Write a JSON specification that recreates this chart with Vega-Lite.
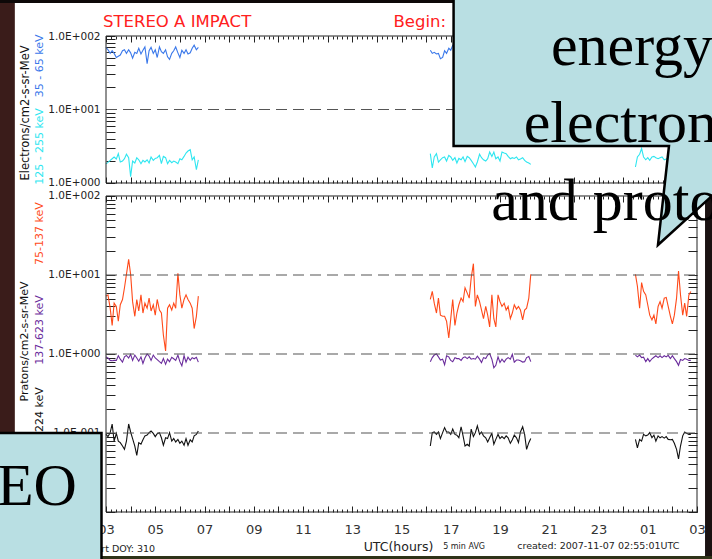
{
"$schema": "https://vega.github.io/schema/vega-lite/v6.json",
"autosize": {"type": "none"},
"width": 591,
"height": 476,
"padding": {"left": 106, "top": 36, "right": 15, "bottom": 47},
"background": "#ffffff",
"config": {"font": "DejaVu Sans", "view": {"stroke": null}},
"datasets": {
"top": [
{"h":3.00,"g":1,"a":70,"b":1.83},{"h":3.08,"g":1,"a":65,"b":1.91},{"h":3.17,"g":1,"a":58,"b":2.03},{"h":3.25,"g":1,"a":63,"b":2.14},{"h":3.33,"g":1,"a":58,"b":2.26},{"h":3.42,"g":1,"a":51,"b":2.12},{"h":3.50,"g":1,"a":53,"b":2.51},{"h":3.58,"g":1,"a":55,"b":1.93},{"h":3.67,"g":1,"a":63,"b":1.99},{"h":3.75,"g":1,"a":65,"b":2.14},{"h":3.83,"g":1,"a":58,"b":2.46},{"h":3.92,"g":1,"a":65,"b":2.21},{"h":4.00,"g":1,"a":59,"b":1.22},{"h":4.08,"g":1,"a":50,"b":1.99},{"h":4.17,"g":1,"a":60,"b":1.87},{"h":4.25,"g":1,"a":58,"b":2.21},{"h":4.33,"g":1,"a":68,"b":2.07},{"h":4.42,"g":1,"a":57,"b":1.83},{"h":4.50,"g":1,"a":64,"b":2.03},{"h":4.58,"g":1,"a":71,"b":1.93},{"h":4.67,"g":1,"a":42,"b":2.07},{"h":4.75,"g":1,"a":63,"b":1.87},{"h":4.83,"g":1,"a":70,"b":2.26},{"h":4.92,"g":1,"a":58,"b":2.03},{"h":5.00,"g":1,"a":65,"b":2.16},{"h":5.08,"g":1,"a":51,"b":2.21},{"h":5.17,"g":1,"a":71,"b":2.38},{"h":5.25,"g":1,"a":61,"b":1.83},{"h":5.33,"g":1,"a":58,"b":2.30},{"h":5.42,"g":1,"a":65,"b":2.21},{"h":5.50,"g":1,"a":52,"b":1.83},{"h":5.58,"g":1,"a":48,"b":2.03},{"h":5.67,"g":1,"a":58,"b":1.89},{"h":5.75,"g":1,"a":63,"b":1.99},{"h":5.83,"g":1,"a":71,"b":1.93},{"h":5.92,"g":1,"a":59,"b":1.83},{"h":6.00,"g":1,"a":51,"b":2.14},{"h":6.08,"g":1,"a":64,"b":2.07},{"h":6.17,"g":1,"a":58,"b":2.30},{"h":6.25,"g":1,"a":65,"b":2.56},{"h":6.33,"g":1,"a":57,"b":2.72},{"h":6.42,"g":1,"a":59,"b":2.84},{"h":6.50,"g":1,"a":68,"b":2.07},{"h":6.58,"g":1,"a":75,"b":2.26},{"h":6.67,"g":1,"a":65,"b":1.52},{"h":6.75,"g":1,"a":70,"b":2.07},
{"h":16.17,"g":2,"a":64,"b":2.51},{"h":16.25,"g":2,"a":58,"b":1.6},{"h":16.33,"g":2,"a":60,"b":2.26},{"h":16.42,"g":2,"a":57,"b":2.51},{"h":16.50,"g":2,"a":58,"b":1.93},{"h":16.58,"g":2,"a":49,"b":2.07},{"h":16.67,"g":2,"a":51,"b":2.21},{"h":16.75,"g":2,"a":63,"b":2.26},{"h":16.83,"g":2,"a":58,"b":1.99},{"h":16.92,"g":2,"a":68,"b":2.38},{"h":17.00,"g":2,"a":64,"b":2.26},{"h":17.08,"g":2,"a":75,"b":2.03},{"h":17.17,"g":2,"a":75,"b":2.21},{"h":17.25,"g":2,"a":66,"b":1.87},{"h":17.33,"g":2,"a":70,"b":2.16},{"h":17.42,"g":2,"a":62,"b":2.07},{"h":17.50,"g":2,"a":58,"b":2.26},{"h":17.58,"g":2,"a":65,"b":1.95},{"h":17.67,"g":2,"a":72,"b":2.30},{"h":17.75,"g":2,"a":60,"b":2.21},{"h":17.83,"g":2,"a":55,"b":2.03},{"h":17.92,"g":2,"a":63,"b":1.83},{"h":18.00,"g":2,"a":68,"b":1.65},{"h":18.08,"g":2,"a":74,"b":1.93},{"h":18.17,"g":2,"a":61,"b":2.46},{"h":18.25,"g":2,"a":57,"b":2.21},{"h":18.33,"g":2,"a":66,"b":2.07},{"h":18.42,"g":2,"a":70,"b":1.99},{"h":18.50,"g":2,"a":59,"b":2.14},{"h":18.58,"g":2,"a":64,"b":2.64},{"h":18.67,"g":2,"a":71,"b":2.30},{"h":18.75,"g":2,"a":62,"b":2.64},{"h":18.83,"g":2,"a":56,"b":2.14},{"h":18.92,"g":2,"a":67,"b":2.26},{"h":19.00,"g":2,"a":73,"b":1.99},{"h":19.08,"g":2,"a":60,"b":2.64},{"h":19.17,"g":2,"a":58,"b":2.56},{"h":19.25,"g":2,"a":65,"b":2.51},{"h":19.33,"g":2,"a":69,"b":2.30},{"h":19.42,"g":2,"a":62,"b":2.14},{"h":19.50,"g":2,"a":57,"b":2.21},{"h":19.58,"g":2,"a":64,"b":2.16},{"h":19.67,"g":2,"a":70,"b":2.26},{"h":19.75,"g":2,"a":61,"b":2.07},{"h":19.83,"g":2,"a":66,"b":2.12},{"h":19.92,"g":2,"a":59,"b":2.21},{"h":20.00,"g":2,"a":63,"b":2.03},{"h":20.08,"g":2,"a":68,"b":1.93},{"h":20.17,"g":2,"a":60,"b":1.87},{"h":20.25,"g":2,"a":65,"b":1.79},
{"h":24.50,"g":3,"a":62,"b":1.65},{"h":24.58,"g":3,"a":68,"b":2.26},{"h":24.67,"g":3,"a":71,"b":2.46},{"h":24.75,"g":3,"a":59,"b":2.94},{"h":24.83,"g":3,"a":64,"b":2.26},{"h":24.92,"g":3,"a":66,"b":2.07},{"h":25.00,"g":3,"a":58,"b":2.21},{"h":25.08,"g":3,"a":63,"b":2.03},{"h":25.17,"g":3,"a":70,"b":2.26},{"h":25.25,"g":3,"a":67,"b":2.30},{"h":25.33,"g":3,"a":60,"b":2.21},{"h":25.42,"g":3,"a":57,"b":2.14},{"h":25.50,"g":3,"a":65,"b":2.21},{"h":25.58,"g":3,"a":69,"b":2.26},{"h":25.67,"g":3,"a":62,"b":2.07},{"h":25.75,"g":3,"a":58,"b":2.12},{"h":25.83,"g":3,"a":66,"b":2.2},{"h":25.92,"g":3,"a":72,"b":2.0},{"h":26.00,"g":3,"a":61,"b":2.3},{"h":26.08,"g":3,"a":64,"b":1.9},{"h":26.17,"g":3,"a":59,"b":2.1},{"h":26.25,"g":3,"a":67,"b":2.4},{"h":26.33,"g":3,"a":70,"b":2.0},{"h":26.42,"g":3,"a":63,"b":2.2},{"h":26.50,"g":3,"a":58,"b":1.8},{"h":26.58,"g":3,"a":65,"b":2.1},{"h":26.67,"g":3,"a":68,"b":2.3},{"h":26.75,"g":3,"a":62,"b":2.0}
],
"bot": [
{"h":3.00,"g":1,"p1":5.4,"p2":0.92,"p3":0.096},{"h":3.08,"g":1,"p1":5.6,"p2":0.89,"p3":0.090},{"h":3.17,"g":1,"p1":3.8,"p2":0.83,"p3":0.101},{"h":3.25,"g":1,"p1":2.3,"p2":0.82,"p3":0.13},{"h":3.33,"g":1,"p1":4.4,"p2":0.83,"p3":0.079},{"h":3.42,"g":1,"p1":4.0,"p2":0.83,"p3":0.099},{"h":3.50,"g":1,"p1":2.6,"p2":0.95,"p3":0.079},{"h":3.58,"g":1,"p1":4.2,"p2":0.86,"p3":0.0755},{"h":3.67,"g":1,"p1":4.9,"p2":0.79,"p3":0.0684},{"h":3.75,"g":1,"p1":6.9,"p2":0.92,"p3":0.062},{"h":3.83,"g":1,"p1":10.2,"p2":0.96,"p3":0.079},{"h":3.92,"g":1,"p1":15.8,"p2":0.89,"p3":0.13},{"h":4.00,"g":1,"p1":10.2,"p2":0.99,"p3":0.103},{"h":4.08,"g":1,"p1":4.6,"p2":0.83,"p3":0.085},{"h":4.17,"g":1,"p1":3.0,"p2":0.97,"p3":0.0684},{"h":4.25,"g":1,"p1":4.9,"p2":0.89,"p3":0.052},{"h":4.33,"g":1,"p1":3.5,"p2":0.81,"p3":0.0755},{"h":4.42,"g":1,"p1":5.6,"p2":0.92,"p3":0.072},{"h":4.50,"g":1,"p1":3.3,"p2":0.76,"p3":0.082},{"h":4.58,"g":1,"p1":4.4,"p2":0.89,"p3":0.092},{"h":4.67,"g":1,"p1":3.8,"p2":1.0,"p3":0.094},{"h":4.75,"g":1,"p1":5.1,"p2":0.94,"p3":0.101},{"h":4.83,"g":1,"p1":3.5,"p2":0.83,"p3":0.106},{"h":4.92,"g":1,"p1":4.2,"p2":0.97,"p3":0.099},{"h":5.00,"g":1,"p1":3.1,"p2":0.89,"p3":0.090},{"h":5.08,"g":1,"p1":4.9,"p2":0.85,"p3":0.098},{"h":5.17,"g":1,"p1":3.6,"p2":0.80,"p3":0.101},{"h":5.25,"g":1,"p1":3.3,"p2":0.76,"p3":0.087},{"h":5.33,"g":1,"p1":1.74,"p2":0.875,"p3":0.070},{"h":5.42,"g":1,"p1":1.09,"p2":0.74,"p3":0.087},{"h":5.50,"g":1,"p1":3.8,"p2":0.86,"p3":0.085},{"h":5.58,"g":1,"p1":4.2,"p2":0.80,"p3":0.101},{"h":5.67,"g":1,"p1":3.6,"p2":0.91,"p3":0.079},{"h":5.75,"g":1,"p1":4.4,"p2":0.87,"p3":0.085},{"h":5.83,"g":1,"p1":3.8,"p2":0.83,"p3":0.077},{"h":5.92,"g":1,"p1":10.5,"p2":0.97,"p3":0.083},{"h":6.00,"g":1,"p1":5.6,"p2":0.80,"p3":0.074},{"h":6.08,"g":1,"p1":3.8,"p2":0.71,"p3":0.079},{"h":6.17,"g":1,"p1":4.9,"p2":0.95,"p3":0.070},{"h":6.25,"g":1,"p1":5.6,"p2":0.79,"p3":0.085},{"h":6.33,"g":1,"p1":4.9,"p2":0.91,"p3":0.070},{"h":6.42,"g":1,"p1":4.4,"p2":0.83,"p3":0.082},{"h":6.50,"g":1,"p1":3.8,"p2":0.90,"p3":0.077},{"h":6.58,"g":1,"p1":2.1,"p2":0.87,"p3":0.092},{"h":6.67,"g":1,"p1":3.0,"p2":0.91,"p3":0.096},{"h":6.75,"g":1,"p1":5.4,"p2":0.79,"p3":0.106},
{"h":16.17,"g":2,"p1":4.9,"p2":0.80,"p3":0.0684},{"h":16.25,"g":2,"p1":6.2,"p2":0.90,"p3":0.101},{"h":16.33,"g":2,"p1":4.4,"p2":0.97,"p3":0.103},{"h":16.42,"g":2,"p1":3.3,"p2":1.0,"p3":0.096},{"h":16.50,"g":2,"p1":5.1,"p2":0.92,"p3":0.103},{"h":16.58,"g":2,"p1":3.1,"p2":0.84,"p3":0.085},{"h":16.67,"g":2,"p1":3.0,"p2":0.86,"p3":0.101},{"h":16.75,"g":2,"p1":3.0,"p2":0.73,"p3":0.117},{"h":16.83,"g":2,"p1":2.6,"p2":0.95,"p3":0.103},{"h":16.92,"g":2,"p1":1.6,"p2":0.92,"p3":0.103},{"h":17.00,"g":2,"p1":2.8,"p2":0.83,"p3":0.096},{"h":17.08,"g":2,"p1":4.9,"p2":0.80,"p3":0.112},{"h":17.17,"g":2,"p1":2.3,"p2":0.90,"p3":0.096},{"h":17.25,"g":2,"p1":3.3,"p2":0.875,"p3":0.094},{"h":17.33,"g":2,"p1":4.2,"p2":0.875,"p3":0.087},{"h":17.42,"g":2,"p1":5.1,"p2":0.83,"p3":0.12},{"h":17.50,"g":2,"p1":4.6,"p2":0.90,"p3":0.092},{"h":17.58,"g":2,"p1":6.9,"p2":0.92,"p3":0.0684},{"h":17.67,"g":2,"p1":5.9,"p2":0.875,"p3":0.072},{"h":17.75,"g":2,"p1":5.1,"p2":0.92,"p3":0.0684},{"h":17.83,"g":2,"p1":9.2,"p2":0.86,"p3":0.112},{"h":17.92,"g":2,"p1":13.9,"p2":0.875,"p3":0.090},{"h":18.00,"g":2,"p1":4.0,"p2":0.86,"p3":0.101},{"h":18.08,"g":2,"p1":5.6,"p2":0.94,"p3":0.123},{"h":18.17,"g":2,"p1":4.6,"p2":0.86,"p3":0.096},{"h":18.25,"g":2,"p1":3.6,"p2":0.78,"p3":0.103},{"h":18.33,"g":2,"p1":2.8,"p2":0.90,"p3":0.092},{"h":18.42,"g":2,"p1":4.0,"p2":0.875,"p3":0.087},{"h":18.50,"g":2,"p1":3.1,"p2":0.97,"p3":0.077},{"h":18.58,"g":2,"p1":2.2,"p2":1.01,"p3":0.087},{"h":18.67,"g":2,"p1":5.6,"p2":0.86,"p3":0.099},{"h":18.75,"g":2,"p1":2.8,"p2":0.67,"p3":0.072},{"h":18.83,"g":2,"p1":2.2,"p2":0.72,"p3":0.083},{"h":18.92,"g":2,"p1":5.6,"p2":0.92,"p3":0.096},{"h":19.00,"g":2,"p1":4.6,"p2":0.78,"p3":0.085},{"h":19.08,"g":2,"p1":4.0,"p2":0.86,"p3":0.090},{"h":19.17,"g":2,"p1":4.4,"p2":0.79,"p3":0.085},{"h":19.25,"g":2,"p1":3.6,"p2":0.86,"p3":0.092},{"h":19.33,"g":2,"p1":4.0,"p2":0.90,"p3":0.087},{"h":19.42,"g":2,"p1":2.8,"p2":0.86,"p3":0.074},{"h":19.50,"g":2,"p1":3.3,"p2":0.99,"p3":0.082},{"h":19.58,"g":2,"p1":4.2,"p2":0.79,"p3":0.094},{"h":19.67,"g":2,"p1":3.7,"p2":0.84,"p3":0.087},{"h":19.75,"g":2,"p1":4.0,"p2":0.84,"p3":0.0755},{"h":19.83,"g":2,"p1":3.6,"p2":0.82,"p3":0.103},{"h":19.92,"g":2,"p1":2.7,"p2":0.79,"p3":0.12},{"h":20.00,"g":2,"p1":3.6,"p2":0.80,"p3":0.096},{"h":20.08,"g":2,"p1":3.8,"p2":0.90,"p3":0.062},{"h":20.17,"g":2,"p1":5.1,"p2":0.93,"p3":0.0755},{"h":20.25,"g":2,"p1":10.2,"p2":0.80,"p3":0.085},
{"h":24.50,"g":3,"p1":10.2,"p2":0.97,"p3":0.083},{"h":24.58,"g":3,"p1":7.2,"p2":0.92,"p3":0.065},{"h":24.67,"g":3,"p1":3.8,"p2":0.97,"p3":0.083},{"h":24.75,"g":3,"p1":8.0,"p2":0.90,"p3":0.079},{"h":24.83,"g":3,"p1":6.2,"p2":0.91,"p3":0.096},{"h":24.92,"g":3,"p1":5.6,"p2":0.80,"p3":0.092},{"h":25.00,"g":3,"p1":4.2,"p2":0.875,"p3":0.094},{"h":25.08,"g":3,"p1":3.1,"p2":0.80,"p3":0.101},{"h":25.17,"g":3,"p1":2.7,"p2":0.87,"p3":0.087},{"h":25.25,"g":3,"p1":3.1,"p2":0.91,"p3":0.094},{"h":25.33,"g":3,"p1":2.4,"p2":0.95,"p3":0.079},{"h":25.42,"g":3,"p1":4.0,"p2":0.90,"p3":0.092},{"h":25.50,"g":3,"p1":4.6,"p2":0.95,"p3":0.087},{"h":25.58,"g":3,"p1":3.8,"p2":0.90,"p3":0.090},{"h":25.67,"g":3,"p1":5.1,"p2":0.95,"p3":0.086},{"h":25.75,"g":3,"p1":5.2,"p2":0.92,"p3":0.090},{"h":25.83,"g":3,"p1":4.0,"p2":0.96,"p3":0.083},{"h":25.92,"g":3,"p1":3.0,"p2":0.875,"p3":0.082},{"h":26.00,"g":3,"p1":2.4,"p2":0.95,"p3":0.083},{"h":26.08,"g":3,"p1":3.1,"p2":0.875,"p3":0.074},{"h":26.17,"g":3,"p1":5.1,"p2":0.80,"p3":0.062},{"h":26.25,"g":3,"p1":11.2,"p2":0.72,"p3":0.047},{"h":26.33,"g":3,"p1":5.6,"p2":0.85,"p3":0.0684},{"h":26.42,"g":3,"p1":3.1,"p2":0.83,"p3":0.092},{"h":26.50,"g":3,"p1":4.4,"p2":0.875,"p3":0.103},{"h":26.58,"g":3,"p1":3.0,"p2":0.86,"p3":0.099},{"h":26.67,"g":3,"p1":5.6,"p2":0.83,"p3":0.096},{"h":26.75,"g":3,"p1":6.2,"p2":0.83,"p3":0.096}
],
"callout": [
{"i":0,"ph":17.115,"pv":100000},{"i":1,"ph":17.115,"pv":429.6},{"i":2,"ph":25.862,"pv":429.6},{"i":3,"ph":25.414,"pv":23.98},{"i":4,"ph":28.79,"pv":216.5},{"i":5,"ph":28.79,"pv":100000}
]
},
"resolve": {"scale": {"y": "independent"}, "axis": {"x": "independent", "y": "independent"}},
"layer": [
{
"data": {"name": "top"},
"transform": [{"fold": ["a", "b"], "as": ["s", "v"]}],
"mark": {"type": "line", "strokeWidth": 1.1},
"encoding": {
"x": {"field": "h", "type": "quantitative", "scale": {"domain": [3, 27], "nice": false, "zero": false},
"axis": {"orient": "top", "values": [3,4,5,6,7,8,9,10,11,12,13,14,15,16,17,18,19,20,21,22,23,24,25,26,27], "tickSize": -6, "labels": false, "domain": false, "grid": false, "title": null, "tickColor": "#222"}},
"y": {"field": "v", "type": "quantitative", "scale": {"type": "log", "domain": [0.0000334, 100], "nice": false},
"axis": {"orient": "left", "values": [1,2,3,4,5,6,7,8,9,10,20,30,40,50,60,70,80,90,100], "tickSize": -9, "domain": false, "grid": false, "title": null, "tickColor": "#222", "labelExpr": "datum.value == 100 ? '1.0E+002' : datum.value == 10 ? '1.0E+001' : datum.value == 1 ? '1.0E+000' : ''", "labelFont": "DejaVu Sans", "labelFontSize": 10.5, "labelColor": "#222", "labelPadding": 15, "labelOverlap": false}},
"color": {"field": "s", "type": "nominal", "scale": {"domain": ["a", "b", "p1", "p2", "p3"], "range": ["#3a78ea", "#2ee6f0", "#ff4a1a", "#6a2c9c", "#111111"]}, "legend": null},
"detail": {"field": "g", "type": "nominal"}
}
},
{
"data": {"values": [{"r": 10}]},
"mark": {"type": "rule", "color": "#555555", "strokeWidth": 1.2, "strokeDash": [11, 6]},
"encoding": {
"x": {"datum": 3, "type": "quantitative", "scale": {"domain": [3, 27], "nice": false, "zero": false},
"axis": {"orient": "top", "tickCount": 120, "tickSize": -3, "labels": false, "domain": false, "grid": false, "title": null, "tickColor": "#222"}},
"x2": {"datum": 27},
"y": {"field": "r", "type": "quantitative", "scale": {"type": "log", "domain": [0.0000334, 100], "nice": false},
"axis": {"orient": "right", "values": [1,2,3,4,5,6,7,8,9,10,20,30,40,50,60,70,80,90,100], "tickSize": -9, "labels": false, "domain": false, "grid": false, "title": null, "tickColor": "#222"}}
}
},
{
"data": {"values": [{}]},
"mark": {"type": "rect", "fill": "transparent", "stroke": "#222222", "strokeWidth": 1},
"encoding": {
"x": {"datum": 3, "type": "quantitative", "scale": {"domain": [3, 27], "nice": false, "zero": false},
"axis": {"orient": "bottom", "offset": -329, "values": [3,4,5,6,7,8,9,10,11,12,13,14,15,16,17,18,19,20,21,22,23,24,25,26,27], "tickSize": -6, "labels": false, "domain": false, "grid": false, "title": null, "tickColor": "#222"}},
"x2": {"datum": 27},
"y": {"datum": 1, "type": "quantitative", "scale": {"type": "log", "domain": [0.0000334, 100], "nice": false}, "axis": null},
"y2": {"datum": 100}
}
},
{
"data": {"values": [{}]},
"mark": {"type": "text", "text": "STEREO A IMPACT", "font": "DejaVu Sans", "fontSize": 16.5, "color": "#ff2020", "align": "left", "baseline": "alphabetic"},
"encoding": {
"x": {"datum": 2.878, "type": "quantitative", "scale": {"domain": [3, 27], "nice": false, "zero": false},
"axis": {"orient": "bottom", "offset": -329, "tickCount": 120, "tickSize": -3, "labels": false, "domain": false, "grid": false, "title": null, "tickColor": "#222"}},
"y": {"datum": 132.6, "type": "quantitative", "scale": {"type": "log", "domain": [0.0000334, 100], "nice": false}, "axis": null}
}
},
{
"data": {"values": [{}]},
"mark": {"type": "text", "text": "Begin:", "font": "DejaVu Sans", "fontSize": 16.5, "color": "#ff2020", "align": "left", "baseline": "alphabetic"},
"encoding": {
"x": {"datum": 14.675, "type": "quantitative", "scale": {"domain": [3, 27], "nice": false, "zero": false}, "axis": null},
"y": {"datum": 132.6, "type": "quantitative", "scale": {"type": "log", "domain": [0.0000334, 100], "nice": false}, "axis": null}
}
},
{
"data": {"values": [{}]},
"mark": {"type": "text", "text": "Electrons/cm2-s-sr-MeV", "font": "DejaVu Sans", "fontSize": 11.5, "color": "#111111", "align": "center", "baseline": "middle", "angle": 270},
"encoding": {
"x": {"datum": -0.254, "type": "quantitative", "scale": {"domain": [3, 27], "nice": false, "zero": false}, "axis": null},
"y": {"datum": 8.965, "type": "quantitative", "scale": {"type": "log", "domain": [0.0000334, 100], "nice": false}, "axis": null}
}
},
{
"data": {"values": [{}]},
"mark": {"type": "text", "text": "125 - 255 keV", "font": "DejaVu Sans", "fontSize": 11, "color": "#2ee6f0", "align": "center", "baseline": "middle", "angle": 270},
"encoding": {
"x": {"datum": 0.315, "type": "quantitative", "scale": {"domain": [3, 27], "nice": false, "zero": false}, "axis": null},
"y": {"datum": 3.14, "type": "quantitative", "scale": {"type": "log", "domain": [0.0000334, 100], "nice": false}, "axis": null}
}
},
{
"data": {"values": [{}]},
"mark": {"type": "text", "text": "35 - 65 keV", "font": "DejaVu Sans", "fontSize": 11, "color": "#3a78ea", "align": "center", "baseline": "middle", "angle": 270},
"encoding": {
"x": {"datum": 0.315, "type": "quantitative", "scale": {"domain": [3, 27], "nice": false, "zero": false}, "axis": null},
"y": {"datum": 39.3, "type": "quantitative", "scale": {"type": "log", "domain": [0.0000334, 100], "nice": false}, "axis": null}
}
},
{
"data": {"name": "bot"},
"transform": [{"fold": ["p1", "p2", "p3"], "as": ["s", "v"]}],
"mark": {"type": "line", "strokeWidth": 1.1},
"encoding": {
"x": {"field": "h", "type": "quantitative", "scale": {"domain": [3, 27], "nice": false, "zero": false},
"axis": {"orient": "bottom", "values": [3,4,5,6,7,8,9,10,11,12,13,14,15,16,17,18,19,20,21,22,23,24,25,26,27], "tickSize": -6, "domain": false, "grid": false, "title": null, "tickColor": "#222", "labelExpr": "datum.value % 2 == 1 ? ((datum.value % 24) < 10 ? '0' : '') + (datum.value % 24) : ''", "labelFont": "DejaVu Sans", "labelFontSize": 13, "labelColor": "#333", "labelPadding": 17, "labelFlush": false, "labelOverlap": false}},
"y": {"field": "v", "type": "quantitative", "scale": {"type": "log", "domain": [0.01, 10600], "nice": false},
"axis": {"orient": "left", "values": [0.01,0.02,0.03,0.04,0.05,0.06,0.07,0.08,0.09,0.1,0.2,0.3,0.4,0.5,0.6,0.7,0.8,0.9,1,2,3,4,5,6,7,8,9,10,20,30,40,50,60,70,80,90,100], "tickSize": -9, "domain": false, "grid": false, "title": null, "tickColor": "#222", "labelExpr": "datum.value == 100 ? '1.0E+002' : datum.value == 10 ? '1.0E+001' : datum.value == 1 ? '1.0E+000' : datum.value == 0.1 ? '1.0E-001' : ''", "labelFont": "DejaVu Sans", "labelFontSize": 10.5, "labelColor": "#222", "labelPadding": 15, "labelOverlap": false}},
"color": {"field": "s", "type": "nominal", "scale": {"domain": ["a", "b", "p1", "p2", "p3"], "range": ["#3a78ea", "#2ee6f0", "#ff4a1a", "#6a2c9c", "#111111"]}, "legend": null},
"detail": {"field": "g", "type": "nominal"}
}
},
{
"data": {"values": [{"r": 10}, {"r": 1}, {"r": 0.1}]},
"mark": {"type": "rule", "color": "#555555", "strokeWidth": 1.2, "strokeDash": [11, 6]},
"encoding": {
"x": {"datum": 3, "type": "quantitative", "scale": {"domain": [3, 27], "nice": false, "zero": false},
"axis": {"orient": "bottom", "tickCount": 120, "tickSize": -3, "labels": false, "domain": false, "grid": false, "title": null, "tickColor": "#222"}},
"x2": {"datum": 27},
"y": {"field": "r", "type": "quantitative", "scale": {"type": "log", "domain": [0.01, 10600], "nice": false},
"axis": {"orient": "right", "values": [0.01,0.02,0.03,0.04,0.05,0.06,0.07,0.08,0.09,0.1,0.2,0.3,0.4,0.5,0.6,0.7,0.8,0.9,1,2,3,4,5,6,7,8,9,10,20,30,40,50,60,70,80,90,100], "tickSize": -9, "labels": false, "domain": false, "grid": false, "title": null, "tickColor": "#222"}}
}
},
{
"data": {"values": [{}]},
"mark": {"type": "rect", "fill": "transparent", "stroke": "#222222", "strokeWidth": 1},
"encoding": {
"x": {"datum": 3, "type": "quantitative", "scale": {"domain": [3, 27], "nice": false, "zero": false},
"axis": {"orient": "top", "offset": -160, "values": [3,4,5,6,7,8,9,10,11,12,13,14,15,16,17,18,19,20,21,22,23,24,25,26,27], "tickSize": -6, "labels": false, "domain": false, "grid": false, "title": null, "tickColor": "#222"}},
"x2": {"datum": 27},
"y": {"datum": 0.01, "type": "quantitative", "scale": {"type": "log", "domain": [0.01, 10600], "nice": false}, "axis": null},
"y2": {"datum": 100}
}
},
{
"data": {"values": [{}]},
"mark": {"type": "text", "text": "Pratons/cm2-s-sr-MeV", "font": "DejaVu Sans", "fontSize": 11, "color": "#111111", "align": "center", "baseline": "middle", "angle": 270},
"encoding": {
"x": {"datum": -0.295, "type": "quantitative", "scale": {"domain": [3, 27], "nice": false, "zero": false}, "axis": null},
"y": {"datum": 1.439, "type": "quantitative", "scale": {"type": "log", "domain": [0.01, 10600], "nice": false}, "axis": null}
}
},
{
"data": {"values": [{}]},
"mark": {"type": "text", "text": "75-137 keV", "font": "DejaVu Sans", "fontSize": 11, "color": "#ff4a1a", "align": "center", "baseline": "middle", "angle": 270},
"encoding": {
"x": {"datum": 0.315, "type": "quantitative", "scale": {"domain": [3, 27], "nice": false, "zero": false}, "axis": null},
"y": {"datum": 33.5, "type": "quantitative", "scale": {"type": "log", "domain": [0.01, 10600], "nice": false}, "axis": null}
}
},
{
"data": {"values": [{}]},
"mark": {"type": "text", "text": "137-623 keV", "font": "DejaVu Sans", "fontSize": 11, "color": "#6a2c9c", "align": "center", "baseline": "middle", "angle": 270},
"encoding": {
"x": {"datum": 0.315, "type": "quantitative", "scale": {"domain": [3, 27], "nice": false, "zero": false}, "axis": null},
"y": {"datum": 2.013, "type": "quantitative", "scale": {"type": "log", "domain": [0.01, 10600], "nice": false}, "axis": null}
}
},
{
"data": {"values": [{}]},
"mark": {"type": "text", "text": "623-2224 keV", "font": "DejaVu Sans", "fontSize": 11, "color": "#111111", "align": "center", "baseline": "middle", "angle": 270},
"encoding": {
"x": {"datum": 0.315, "type": "quantitative", "scale": {"domain": [3, 27], "nice": false, "zero": false}, "axis": null},
"y": {"datum": 0.1245, "type": "quantitative", "scale": {"type": "log", "domain": [0.01, 10600], "nice": false}, "axis": null}
}
},
{
"data": {"values": [{}]},
"mark": {"type": "text", "text": "Start DOY: 310", "font": "DejaVu Sans", "fontSize": 9.5, "color": "#222222", "align": "right", "baseline": "middle"},
"encoding": {
"x": {"datum": 4.993, "type": "quantitative", "scale": {"domain": [3, 27], "nice": false, "zero": false}, "axis": null},
"y": {"datum": 0.0034, "type": "quantitative", "scale": {"type": "log", "domain": [0.01, 10600], "nice": false}, "axis": null}
}
},
{
"data": {"values": [{}]},
"mark": {"type": "text", "text": "UTC(hours)", "font": "DejaVu Sans", "fontSize": 12.5, "color": "#222222", "align": "center", "baseline": "middle"},
"encoding": {
"x": {"datum": 14.878, "type": "quantitative", "scale": {"domain": [3, 27], "nice": false, "zero": false}, "axis": null},
"y": {"datum": 0.003606, "type": "quantitative", "scale": {"type": "log", "domain": [0.01, 10600], "nice": false}, "axis": null}
}
},
{
"data": {"values": [{}]},
"mark": {"type": "text", "text": "5 min AVG", "font": "DejaVu Sans", "fontSize": 8, "color": "#222222", "align": "center", "baseline": "middle"},
"encoding": {
"x": {"datum": 17.543, "type": "quantitative", "scale": {"domain": [3, 27], "nice": false, "zero": false}, "axis": null},
"y": {"datum": 0.003606, "type": "quantitative", "scale": {"type": "log", "domain": [0.01, 10600], "nice": false}, "axis": null}
}
},
{
"data": {"values": [{}]},
"mark": {"type": "text", "text": "created: 2007-11-07 02:55:01UTC", "font": "DejaVu Sans", "fontSize": 9.5, "color": "#222222", "align": "center", "baseline": "middle"},
"encoding": {
"x": {"datum": 22.993, "type": "quantitative", "scale": {"domain": [3, 27], "nice": false, "zero": false}, "axis": null},
"y": {"datum": 0.00372, "type": "quantitative", "scale": {"type": "log", "domain": [0.01, 10600], "nice": false}, "axis": null}
}
},
{
"data": {"values": [{}]},
"mark": {"type": "rect", "fill": "#3a1c1a"},
"encoding": {
"x": {"datum": -1.719, "type": "quantitative", "scale": {"domain": [3, 27], "nice": false, "zero": false},
"axis": {"orient": "top", "offset": -160, "tickCount": 120, "tickSize": -3, "labels": false, "domain": false, "grid": false, "title": null, "tickColor": "#222"}},
"x2": {"datum": -0.702},
"y": {"datum": 0.0005, "type": "quantitative", "scale": {"type": "log", "domain": [0.01, 10600], "nice": false}, "axis": null},
"y2": {"datum": 100000}
}
},
{
"data": {"values": [{}]},
"mark": {"type": "rect", "fill": "#0d0808"},
"encoding": {
"x": {"datum": -1.719, "type": "quantitative", "scale": {"domain": [3, 27], "nice": false, "zero": false}, "axis": null},
"x2": {"datum": 29},
"y": {"datum": 27730, "type": "quantitative", "scale": {"type": "log", "domain": [0.01, 10600], "nice": false}, "axis": null},
"y2": {"datum": 100000}
}
},
{
"data": {"values": [{}]},
"mark": {"type": "rect", "fill": "#1a1212"},
"encoding": {
"x": {"datum": 27.326, "type": "quantitative", "scale": {"domain": [3, 27], "nice": false, "zero": false}, "axis": null},
"x2": {"datum": 29},
"y": {"datum": 0.0005, "type": "quantitative", "scale": {"type": "log", "domain": [0.01, 10600], "nice": false}, "axis": null},
"y2": {"datum": 100000}
}
},
{
"data": {"values": [{}]},
"mark": {"type": "rect", "fill": "#2e3318"},
"encoding": {
"x": {"datum": -1.719, "type": "quantitative", "scale": {"domain": [3, 27], "nice": false, "zero": false}, "axis": null},
"x2": {"datum": 29},
"y": {"datum": 0.0005, "type": "quantitative", "scale": {"type": "log", "domain": [0.01, 10600], "nice": false}, "axis": null},
"y2": {"datum": 0.002773}
}
},
{
"data": {"name": "callout"},
"mark": {"type": "line", "interpolate": "linear-closed", "fill": "#b9dfe3", "stroke": "#000000", "strokeWidth": 2.5},
"encoding": {
"x": {"field": "ph", "type": "quantitative", "scale": {"domain": [3, 27], "nice": false, "zero": false}, "axis": null},
"y": {"field": "pv", "type": "quantitative", "scale": {"type": "log", "domain": [0.01, 10600], "nice": false}, "axis": null},
"order": {"field": "i", "type": "quantitative"}
}
},
{
"data": {"values": [{}]},
"mark": {"type": "rect", "fill": "#b9dfe3", "stroke": "#000000", "strokeWidth": 2.5},
"encoding": {
"x": {"datum": -3, "type": "quantitative", "scale": {"domain": [3, 27], "nice": false, "zero": false}, "axis": null},
"x2": {"datum": 2.817},
"y": {"datum": 0.1, "type": "quantitative", "scale": {"type": "log", "domain": [0.01, 10600], "nice": false}, "axis": null},
"y2": {"datum": 0.0005}
}
},
{
"data": {"values": [{}]},
"mark": {"type": "text", "text": "STEREO", "font": "Liberation Serif", "fontSize": 60, "color": "#000000", "align": "right", "baseline": "alphabetic"},
"encoding": {
"x": {"datum": 1.82, "type": "quantitative", "scale": {"domain": [3, 27], "nice": false, "zero": false}, "axis": null},
"y": {"datum": 0.01227, "type": "quantitative", "scale": {"type": "log", "domain": [0.01, 10600], "nice": false}, "axis": null}
}
},
{
"data": {"values": [{}]},
"mark": {"type": "text", "text": "energy", "font": "Liberation Serif", "fontSize": 60, "color": "#000000", "align": "center", "baseline": "alphabetic"},
"encoding": {
"x": {"datum": 24.36, "type": "quantitative", "scale": {"domain": [3, 27], "nice": false, "zero": false}, "axis": null},
"y": {"datum": 4551, "type": "quantitative", "scale": {"type": "log", "domain": [0.01, 10600], "nice": false}, "axis": null}
}
},
{
"data": {"values": [{}]},
"mark": {"type": "text", "text": "electrons", "font": "Liberation Serif", "fontSize": 60, "color": "#000000", "align": "center", "baseline": "alphabetic"},
"encoding": {
"x": {"datum": 24.36, "type": "quantitative", "scale": {"domain": [3, 27], "nice": false, "zero": false}, "axis": null},
"y": {"datum": 482.6, "type": "quantitative", "scale": {"type": "log", "domain": [0.01, 10600], "nice": false}, "axis": null}
}
},
{
"data": {"values": [{}]},
"mark": {"type": "text", "text": "and protons", "font": "Liberation Serif", "fontSize": 60, "color": "#000000", "align": "center", "baseline": "alphabetic"},
"encoding": {
"x": {"datum": 24.36, "type": "quantitative", "scale": {"domain": [3, 27], "nice": false, "zero": false}, "axis": null},
"y": {"datum": 49.68, "type": "quantitative", "scale": {"type": "log", "domain": [0.01, 10600], "nice": false}, "axis": null}
}
}
]
}
